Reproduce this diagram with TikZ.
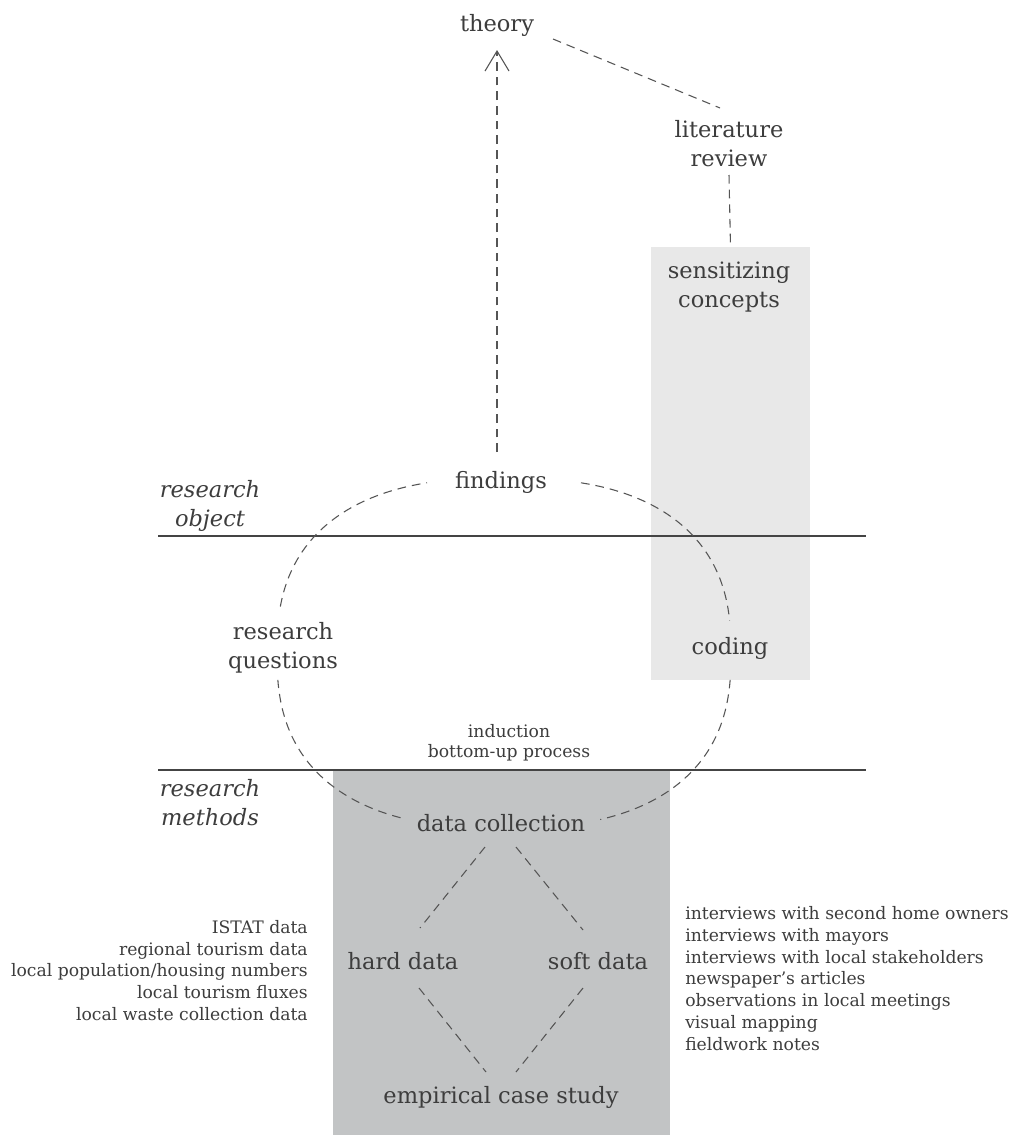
\documentclass[tikz,border=0pt]{standalone}
\usepackage{fontspec}
\setmainfont{DejaVu Serif}
\usetikzlibrary{calc,arrows.meta}
\definecolor{txt}{HTML}{3D3D3D}
\definecolor{dashc}{HTML}{555555}
\definecolor{lightg}{HTML}{E8E8E8}
\definecolor{darkg}{HTML}{C2C4C5}
\definecolor{rulec}{HTML}{444444}
\newcommand\mybigfont{\fontsize{16.9}{21.75}\selectfont}
\newcommand\mysmallfont{\fontsize{12.9}{16.3}\selectfont}
\begin{document}
\begin{tikzpicture}[x=0.75pt,y=-0.75pt,
  lbl/.style={inner sep=0pt, text=txt, font=\mybigfont, align=center},
  sml/.style={inner sep=0pt, text=txt, font=\mysmallfont},
  side/.style={inner sep=0pt, text=txt, font=\mybigfont\itshape, align=center},
  dsh/.style={draw=dashc, line width=0.8pt, dash pattern=on 6.5pt off 4.5pt},
  rulel/.style={draw=rulec, line width=1.4pt},
  panel/.style={inner sep=0pt, outer sep=0pt, draw=none}]
\useasboundingbox[fill=white] (0,0) rectangle (1014,1135);
% panels
\node[panel, fill=lightg, minimum width=119.25pt, minimum height=324.75pt] (lightbox) at (730.5,463.5) {};
\node[panel, fill=darkg, minimum width=252.75pt, minimum height=273.75pt] (darkbox) at (501.5,952.5) {};
% level rules
\draw[rulel] (158,536) -- (866,536);
\draw[rulel] (158,770) -- (866,770);
% labels
\node[lbl] (theory) at (497,25) {theory};
\node[lbl] (lit) at (729,144) {literature\\review};
\node[lbl] (sens) at (729,287.5) {sensitizing\\concepts};
\node[lbl] (findings) at (501,482) {findings};
\node[side] (robj) at (210,505.5) {research\\object};
\node[lbl] (rq) at (283,647.5) {research\\questions};
\node[lbl] (coding) at (730,648) {coding};
\node[sml, align=center, font=\fontsize{12.9}{15}\selectfont] (ind) at (509,743) {induction\\bottom-up process};
\node[side] (rmet) at (210,803) {research\\methods};
\node[lbl] (dc) at (501,823) {data collection};
\node[lbl] (hard) at (403,961) {hard data};
\node[lbl] (soft) at (598,961) {soft data};
\node[lbl] (emp) at (501,1097) {empirical case study};
\node[sml, anchor=east, align=right] (hardlist) at (308,970.5) {ISTAT data\\regional tourism data\\local population/housing numbers\\local tourism fluxes\\local waste collection data};
\node[sml, anchor=west, align=left] (softlist) at (685,978.5) {interviews with second home owners\\interviews with mayors\\interviews with local stakeholders\\newspaper’s articles\\observations in local meetings\\visual mapping\\fieldwork notes};
% induction loop
\foreach \a/\b in {191/255, 285/353, 5.5/70, 112/174.5}
  \draw[dsh] plot[domain=\a:\b, samples=40, smooth]
    ({504+227*cos(\x)*abs(cos(\x))^(-0.2)}, {653+175*sin(\x)*abs(sin(\x))^(-0.2)});
% connectors
\draw[dsh, -{Straight Barb[length=15pt,width=18pt,line width=0.8pt]}] ($(findings)+(-4,-30)$) -- ($(theory)+(0,25)$);
\draw[dsh] ($(theory)+(56,14)$) -- ($(lit)+(-9,-36)$);
\draw[dsh] ($(lit)+(0,31)$) -- (lightbox.north);
\draw[dsh] ($(dc)+(-16,24)$) -- ($(hard)+(17,-33)$);
\draw[dsh] ($(dc)+(15,24)$) -- ($(soft)+(-15,-31)$);
\draw[dsh] ($(hard)+(16,27)$) -- ($(emp)+(-15,-25)$);
\draw[dsh] ($(soft)+(-15,27)$) -- ($(emp)+(15,-25)$);
\end{tikzpicture}
\end{document}
